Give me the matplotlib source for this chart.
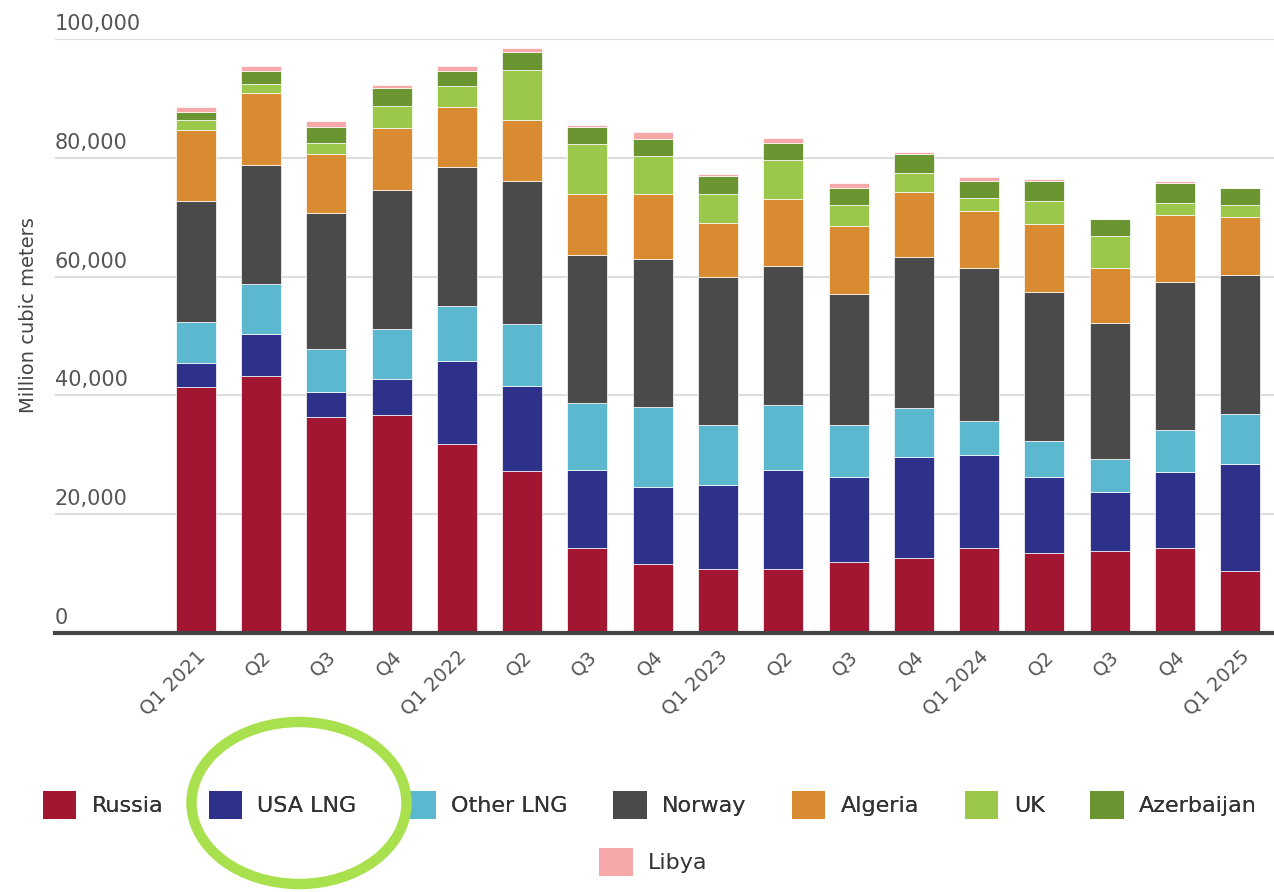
import matplotlib
matplotlib.use("Agg")
import matplotlib.pyplot as plt
from matplotlib.patches import Patch, Ellipse
from matplotlib.transforms import blended_transform_factory, offset_copy
import numpy as np

quarters = ["Q1 2021", "Q2", "Q3", "Q4", "Q1 2022", "Q2", "Q3", "Q4", "Q1 2023",
            "Q2", "Q3", "Q4", "Q1 2024", "Q2", "Q3", "Q4", "Q1 2025"]

russia     = [41360, 43330, 36360, 36750, 31810, 27200, 14280, 11630, 10790, 10790, 11920, 12700, 14280, 13430, 13880, 14280, 10450]
usa_lng    = [4040, 7030, 4220, 6020, 14000, 14440, 13090, 12870, 14050, 16580, 14330, 16860, 15620, 12870, 9780, 12810, 18040]
other_lng  = [6980, 8430, 7250, 8400, 9320, 10410, 11360, 13490, 10110, 10950, 8700, 8320, 5730, 5960, 5620, 7140, 8380]
norway     = [20290, 19950, 22930, 23350, 23270, 24050, 24880, 24900, 24900, 23440, 22200, 25340, 25740, 25230, 22930, 24830, 23320]
algeria    = [12020, 12140, 9830, 10570, 10170, 10270, 10240, 10960, 9110, 11250, 11360, 10960, 9730, 11410, 9160, 11300, 9830]
uk         = [1680, 1510, 1970, 3590, 3540, 8440, 8430, 6460, 5010, 6570, 3540, 3210, 2070, 3870, 5400, 2020, 1970]
azerbaijan = [1420, 2190, 2700, 2990, 2530, 2930, 2920, 2930, 2970, 2980, 2930, 3200, 2930, 3330, 2980, 3320, 2990]
libya      = [840, 850, 1010, 670, 840, 720, 340, 1120, 400, 730, 790, 460, 670, 390, 0, 400, 0]

series_names = ["Russia", "USA LNG", "Other LNG", "Norway", "Algeria", "UK", "Azerbaijan", "Libya"]
series_vals = [russia, usa_lng, other_lng, norway, algeria, uk, azerbaijan, libya]
colors = ["#A31631", "#2E3189", "#5BB8CE", "#4A4A4A", "#D98B32", "#9BC84A", "#6B9530", "#F7A8A8"]

yticks = [0, 20000, 40000, 60000, 80000, 100000]

txt_color = "#555555"

fig = plt.figure(figsize=(12.74, 8.92), dpi=100)
ax = fig.add_axes([55/1274, 259/892, 1 - 55/1274, 594/892])

x = np.arange(len(quarters))
bottom = np.zeros(len(quarters))
for name, vals, c in zip(series_names, series_vals, colors):
    v = np.array(vals, dtype=float)
    ax.bar(x, v, width=0.613, bottom=bottom, color=c, edgecolor="white",
           linewidth=0.5, label=name, zorder=3)
    bottom += v

ax.set_xlim(-2.16, 16.52)
ax.set_ylim(0, 100000)

for s in ["top", "right", "left"]:
    ax.spines[s].set_visible(False)
ax.spines["bottom"].set_color("#444444")
ax.spines["bottom"].set_linewidth(3)
ax.spines["bottom"].set_zorder(4)

ax.set_yticks(yticks)
ax.set_yticklabels([])
ax.tick_params(axis="y", length=0)
ax.grid(axis="y", color="#DDDDDD", linewidth=1.5, zorder=0)
ax.set_axisbelow(True)

trans = blended_transform_factory(ax.transAxes, ax.transData)
trans = offset_copy(trans, fig=fig, x=0, y=5, units="dots")
for t in yticks:
    ax.text(0.0, t, f"{t:,}", transform=trans, ha="left", va="bottom",
            fontsize=15, color=txt_color, clip_on=False)

ax.set_xticks(x)
ax.set_xticklabels(quarters, rotation=45, ha="right", va="top",
                   rotation_mode="anchor", fontsize=14, color=txt_color)
ax.tick_params(axis="x", length=0, pad=10)

fig.text(28/1274, 1 - 315/892, "Million cubic meters", rotation=90,
         ha="center", va="center", fontsize=14, color="#444444")

handles = [Patch(facecolor=c, edgecolor="none") for c in colors]
leg1 = fig.legend(handles[:7], series_names[:7], loc="center",
                  bbox_to_anchor=(0.51, 1 - 805/892), ncol=7, frameon=False,
                  fontsize=16, handlelength=1.5, handleheight=1.5,
                  handletextpad=0.7, columnspacing=2.05, labelcolor="#333333")
leg2 = fig.legend(handles[7:], series_names[7:], loc="center",
                  bbox_to_anchor=(0.513, 1 - 862/892), ncol=1, frameon=False,
                  fontsize=16, handlelength=1.5, handleheight=1.5,
                  handletextpad=0.7, labelcolor="#333333")
fig.add_artist(leg1)

ell = Ellipse((299/1274, 1 - 803/892), 215/1274, 162/892, transform=fig.transFigure,
              fill=False, edgecolor="#A8E04E", linewidth=7.5, zorder=10)
fig.add_artist(ell)

fig.savefig("out.png", dpi=100, facecolor="white")
